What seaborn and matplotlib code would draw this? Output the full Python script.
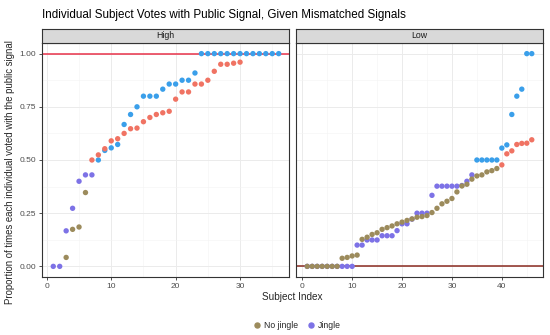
import numpy as np
import pandas as pd
import matplotlib
matplotlib.use('Agg')
import matplotlib.pyplot as plt
import seaborn as sns
from matplotlib.lines import Line2D
from matplotlib.ticker import MultipleLocator

# 数据: 每个被试与公共信号一致投票的比例（按大小排序）
high_jingle = [0.0, 0.0, 0.167, 0.273, 0.40, 0.43, 0.43, 0.50, 0.545, 0.557, 0.573, 0.667,
               0.714, 0.75, 0.80, 0.80, 0.80, 0.833, 0.857, 0.857, 0.875, 0.875, 0.909,
               1.0, 1.0, 1.0, 1.0, 1.0, 1.0, 1.0, 1.0, 1.0, 1.0, 1.0, 1.0, 1.0]
high_nojingle = [0.042, 0.174, 0.185, 0.347, 0.50, 0.524, 0.553, 0.59, 0.60, 0.625, 0.647,
                 0.65, 0.68, 0.70, 0.714, 0.722, 0.729, 0.786, 0.82, 0.82, 0.857, 0.857,
                 0.875, 0.917, 0.95, 0.95, 0.955, 0.96]
high_nojingle_start = 3

low_jingle = [0.0, 0.0, 0.0, 0.0, 0.0, 0.0, 0.0, 0.0, 0.0, 0.0, 0.10, 0.10, 0.124, 0.124,
              0.124, 0.144, 0.144, 0.144, 0.168, 0.20, 0.20, 0.222, 0.25, 0.25, 0.25, 0.334,
              0.377, 0.377, 0.377, 0.377, 0.377, 0.38, 0.40, 0.43, 0.50, 0.50, 0.50, 0.50,
              0.50, 0.556, 0.571, 0.714, 0.80, 0.833, 1.0, 1.0]
low_nojingle = [0.0, 0.0, 0.0, 0.0, 0.0, 0.0, 0.0, 0.038, 0.042, 0.049, 0.053, 0.127, 0.137,
                0.15, 0.158, 0.174, 0.182, 0.19, 0.20, 0.208, 0.216, 0.223, 0.231, 0.234,
                0.239, 0.253, 0.273, 0.294, 0.306, 0.319, 0.35, 0.378, 0.386, 0.41, 0.425,
                0.43, 0.444, 0.45, 0.46, 0.477, 0.529, 0.543, 0.573, 0.578, 0.579, 0.595]
low_nojingle_start = 1

rows = []
for panel, grp, vals, start in [('High', 'Jingle', high_jingle, 1),
                                ('High', 'No jingle', high_nojingle, high_nojingle_start),
                                ('Low', 'Jingle', low_jingle, 1),
                                ('Low', 'No jingle', low_nojingle, low_nojingle_start)]:
    for i, v in enumerate(vals):
        rows.append({'panel': panel, 'group': grp, 'idx': start + i, 'prop': v})
df = pd.DataFrame(rows)
# 低比例的点在原图里颜色是叠加后的混色
df['tone'] = np.where(df['prop'] < 0.47, df['group'] + ' mix', df['group'])

palette = {'No jingle': '#F07363', 'Jingle': '#3A9FEA',
           'No jingle mix': '#9C8B5C', 'Jingle mix': '#7D72E6'}

sns.set_theme(style='white')
plt.rcParams['font.family'] = ['Liberation Sans', 'DejaVu Sans']

fig = plt.figure(figsize=(5.5, 3.35), dpi=100)
W, H = 550.0, 335.0
panels = {'High': (42, -0.75, 37.6), 'Low': (296, -1.25, 48.25)}
hlines = {'High': (1.0, '#E8334A'), 'Low': (0.0, '#8A2A20')}
xticks = {'High': [0, 10, 20, 30], 'Low': [0, 10, 20, 30, 40]}

for k, (name, (left, x0, x1)) in enumerate(panels.items()):
    ax = fig.add_axes([left / W, 1 - 277 / H, 247 / W, 234 / H])
    sub = df[df['panel'] == name]
    ax.axhline(hlines[name][0], color=hlines[name][1], lw=1.1, zorder=1)
    for grp in ['Jingle', 'No jingle']:
        sns.scatterplot(data=sub[sub['group'] == grp], x='idx', y='prop', hue='tone',
                        palette=palette, s=15, linewidth=0, legend=False, ax=ax, zorder=3)
    ax.set_xlim(x0, x1)
    ax.set_ylim(-0.05, 1.05)
    ax.set_xticks(xticks[name])
    ax.xaxis.set_minor_locator(MultipleLocator(5))
    ax.set_yticks([0, 0.25, 0.5, 0.75, 1.0])
    ax.yaxis.set_minor_locator(MultipleLocator(0.125))
    ax.grid(True, which='major', color='#EBEBEB', lw=0.7)
    ax.grid(True, which='minor', color='#F3F3F3', lw=0.4)
    ax.set_axisbelow(True)
    for sp in ax.spines.values():
        sp.set_color('#333333')
        sp.set_linewidth(0.8)
    ax.tick_params(which='major', length=2.5, width=0.6, color='#333333',
                   labelsize=6, labelcolor='#4D4D4D', pad=1.5,
                   bottom=True, left=(k == 0))
    ax.tick_params(which='minor', length=0)
    if k == 0:
        ax.set_yticklabels(['0.00', '0.25', '0.50', '0.75', '1.00'])
    else:
        ax.set_yticklabels([])
    ax.set_xlabel('')
    ax.set_ylabel('')

    # 分面标题条
    sax = fig.add_axes([left / W, 1 - 43 / H, 247 / W, 14 / H])
    sax.set_facecolor('#D9D9D9')
    sax.set_xticks([])
    sax.set_yticks([])
    for sp in sax.spines.values():
        sp.set_color('#333333')
        sp.set_linewidth(0.8)
    sax.text(0.5, 0.5, name, ha='center', va='center', fontsize=6.3, color='#1A1A1A',
             transform=sax.transAxes)

fig.text(42 / W, 1 - 15 / H, 'Individual Subject Votes with Public Signal, Given Mismatched Signals',
         ha='left', va='center', fontsize=8.4, color='#000000')
fig.text(292 / W, 1 - 297 / H, 'Subject Index', ha='center', va='center', fontsize=7.2)
fig.text(10 / W, 1 - 172 / H, 'Proportion of times each individual voted with the public signal',
         ha='center', va='center', rotation=90, fontsize=6.9)

handles = [Line2D([], [], marker='o', ls='', color=palette['No jingle mix'], markersize=3.6,
                  label='No jingle'),
           Line2D([], [], marker='o', ls='', color=palette['Jingle mix'], markersize=3.6,
                  label='Jingle')]
fig.legend(handles=handles, loc='center', bbox_to_anchor=(297 / W, 1 - 326 / H), ncol=2,
           frameon=False, fontsize=6.2, handletextpad=0.3, columnspacing=1.0,
           handlelength=1.0)

fig.savefig('out.png', dpi=100)
